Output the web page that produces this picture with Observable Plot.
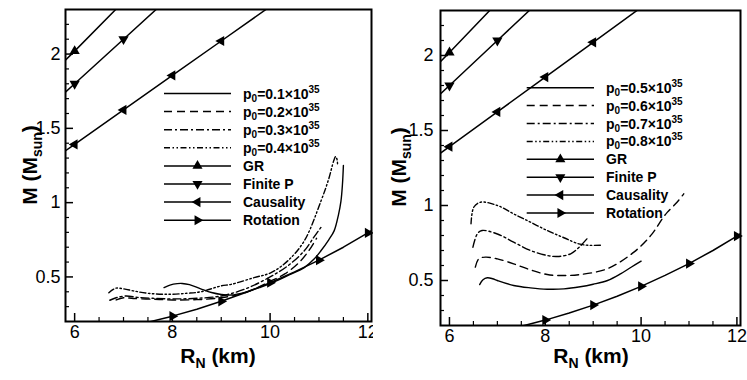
<!DOCTYPE html>
<html><head><meta charset="utf-8">
<script src="https://cdn.jsdelivr.net/npm/d3@7"></script>
<script src="https://cdn.jsdelivr.net/npm/@observablehq/plot@0.6"></script>
<style>
body{margin:0;background:#fff;}
#wrap{display:flex;width:747px;height:380px;background:#fff;}
</style></head><body><div id="wrap"></div>
<script>
// ---------- data ----------
const xMajor = [6, 8, 10, 12];
const xMinor = [6.5, 7, 7.5, 8.5, 9, 9.5, 10.5, 11, 11.5];
const yMajor = [0.5, 1, 1.5, 2];
const yMinor = [0.3, 0.4, 0.6, 0.7, 0.8, 0.9, 1.1, 1.2, 1.3, 1.4, 1.6, 1.7, 1.8, 1.9, 2.1, 2.2];

const limitNames = ["GR", "Finite P", "Causality", "Rotation"];
const grLine = [[5.8, 1.955], [6, 2.02], [6.9, 2.32]];
const grMarkers = [[6, 2.02]];
const finitePLine = [[5.8, 1.74], [6, 1.8], [7, 2.1], [7.8, 2.34]];
const finitePMarkers = [[6, 1.8], [7, 2.1]];
const causalityLine = [[5.8, 1.346], [6, 1.392], [7, 1.624], [8, 1.856], [9, 2.088], [10, 2.32]];
const causalityMarkers = [[6, 1.392], [7, 1.624], [8, 1.856], [9, 2.088]];
const rotationLine = [[7.5, 0.195], [8, 0.236], [8.5, 0.283], [9, 0.336], [9.5, 0.395], [10, 0.461], [10.5, 0.534], [11, 0.613], [11.5, 0.70], [12, 0.796], [12.2, 0.84]];
const rotationMarkers = [[8, 0.236], [9, 0.336], [10, 0.461], [11, 0.613], [12, 0.796]];

const leftP0 = ["0.1", "0.2", "0.3", "0.4"];
const rightP0 = ["0.5", "0.6", "0.7", "0.8"];

const curveP01 = [[7.83,0.428],[7.95,0.445],[8.1,0.455],[8.2,0.456],[8.35,0.448],[8.58,0.42],[8.8,0.395],[9.0,0.382],[9.2,0.378],[9.5,0.398],[9.8,0.43],[10.0,0.455],[10.2,0.483],[10.4,0.515],[10.7,0.563],[10.9,0.62],[11.04,0.676],[11.2,0.75],[11.31,0.81],[11.4,0.92],[11.45,1.01],[11.48,1.12],[11.5,1.25]];
const curveP02 = [[6.85,0.345],[7.0,0.36],[7.2,0.355],[7.6,0.35],[8.0,0.345],[8.5,0.347],[9.0,0.36],[9.5,0.395],[10.0,0.47],[10.3,0.52],[10.6,0.6],[10.8,0.68],[10.95,0.76]];
const curveP03 = [[6.72,0.343],[6.85,0.36],[7.05,0.372],[7.3,0.362],[7.6,0.356],[8.0,0.352],[8.5,0.356],[9.0,0.372],[9.5,0.42],[10.0,0.5],[10.36,0.574],[10.7,0.676],[10.9,0.77],[11.04,0.833]];
const curveP04 = [[6.7,0.394],[6.84,0.424],[7.0,0.42],[7.22,0.405],[7.5,0.39],[7.9,0.383],[8.3,0.39],[8.58,0.40],[9.0,0.44],[9.2,0.45],[9.67,0.495],[10.02,0.529],[10.36,0.608],[10.7,0.743],[11.04,1.01],[11.2,1.16],[11.3,1.28],[11.34,1.31],[11.37,1.29],[11.38,1.26]];

const curveP05 = [[6.63,0.473],[6.7,0.505],[6.79,0.518],[6.9,0.512],[7.0,0.5],[7.34,0.467],[7.69,0.451],[8.04,0.442],[8.39,0.444],[8.73,0.458],[9.0,0.475],[9.3,0.5],[9.57,0.544],[9.8,0.59],[10.0,0.629]];
const curveP06 = [[6.54,0.589],[6.61,0.644],[6.75,0.656],[7.0,0.644],[7.34,0.611],[7.69,0.571],[8.04,0.54],[8.39,0.533],[8.73,0.54],[9.29,0.578],[9.85,0.689],[10.23,0.811],[10.44,0.911],[10.55,0.956],[10.75,1.022],[10.89,1.078]];
const curveP07 = [[6.49,0.722],[6.58,0.81],[6.68,0.833],[7.0,0.81],[7.34,0.756],[7.69,0.70],[8.04,0.667],[8.25,0.66],[8.53,0.678],[8.7,0.72],[8.87,0.778]];
const curveP08 = [[6.45,0.878],[6.51,0.99],[6.65,1.022],[7.0,1.0],[7.34,0.944],[7.69,0.889],[8.04,0.833],[8.39,0.785],[8.7,0.744],[8.9,0.735],[9.15,0.735]];

// ---------- styles ----------
const FONT = "'Liberation Sans', Arial, Helvetica, sans-serif";
const dashes = [null, "8,5", "8,3,2,3", "6,2.5,1.5,2.5,1.5,2.5"];
const limitRotate = [0, 180, -90, 90];
const limitLines = [grLine, finitePLine, causalityLine, rotationLine];
const limitMarkers = [grMarkers, finitePMarkers, causalityMarkers, rotationMarkers];

function makePanel(cfg) {
  const marks = [];
  cfg.curves.forEach((c, i) => {
    marks.push(Plot.line(c, {x: d => d[0], y: d => d[1], stroke: "black", strokeWidth: 1.4,
      strokeDasharray: dashes[i], curve: "catmull-rom", clip: true}));
  });
  limitLines.forEach((L, i) => {
    marks.push(Plot.line(L, {x: d => d[0], y: d => d[1], stroke: "black", strokeWidth: 1.5, clip: true}));
    marks.push(Plot.dot(limitMarkers[i], {x: d => d[0], y: d => d[1], symbol: "triangle",
      rotate: limitRotate[i], r: 3.8, fill: "black", stroke: "none"}));
  });
  marks.push(Plot.axisX(xMinor, {tickSize: -4, fill: "none", strokeWidth: 1.2, label: null}));
  marks.push(Plot.axisX(xMajor, {tickSize: -8, fill: "none", strokeWidth: 1.5, label: null}));
  marks.push(Plot.axisX(xMajor, {tickSize: 0, tickPadding: 4, fontSize: 18, tickFormat: d => String(d), label: null}));
  marks.push(Plot.axisY(yMinor, {tickSize: -4, fill: "none", strokeWidth: 1.2, label: null}));
  marks.push(Plot.axisY(yMajor, {tickSize: -8, fill: "none", strokeWidth: 1.5, label: null}));
  marks.push(Plot.axisY(yMajor, {tickSize: 0, tickPadding: cfg.padY, fontSize: 18, tickFormat: d => String(d), label: null}));
  marks.push(Plot.frame({stroke: "black", strokeWidth: 2}));

  const svgEl = Plot.plot({
    width: cfg.width, height: 380,
    marginLeft: cfg.ml, marginRight: cfg.mr, marginTop: cfg.mt, marginBottom: cfg.mb,
    x: {domain: [5.813, 12.075]},
    y: {domain: [0.2, 2.3]},
    style: {fontFamily: FONT, color: "black", background: "white", overflow: "visible"},
    marks
  });
  const svg = d3.select(svgEl);

  // axis titles
  const xt = svg.append("text").attr("x", cfg.xTitleX).attr("y", 363)
    .attr("text-anchor", "middle").attr("font-family", FONT).attr("font-weight", "bold").attr("font-size", 21).attr("fill", "black");
  xt.append("tspan").text("R");
  xt.append("tspan").attr("font-size", 14).attr("dy", 5).text("N");
  xt.append("tspan").attr("dy", -5).text(" (km)");

  const yt = svg.append("text").attr("transform", `translate(${cfg.yTitleX},${cfg.yTitleY}) rotate(-90)`)
    .attr("text-anchor", "middle").attr("font-family", FONT).attr("font-weight", "bold").attr("font-size", 21).attr("fill", "black");
  yt.append("tspan").text("M (M");
  yt.append("tspan").attr("font-size", 14).attr("dy", 5).text("sun");
  yt.append("tspan").attr("dy", -5).text(")");

  // legend
  const g = svg.append("g").attr("font-family", FONT).attr("font-weight", "bold").attr("font-size", 14)
    .attr("fill", "black").attr("text-anchor", "start");
  const rows = cfg.labels.map((p, i) => ({type: "p", p, dash: dashes[i]}))
    .concat(limitNames.map((n, i) => ({type: "limit", name: n, rot: limitRotate[i]})));
  rows.forEach((row, i) => {
    const y = cfg.legY0 + i * cfg.legDy;
    g.append("line").attr("x1", cfg.legX0).attr("x2", cfg.legX1).attr("y1", y).attr("y2", y)
      .attr("stroke", "black").attr("stroke-width", 1.5)
      .attr("stroke-dasharray", row.dash || null);
    const t = g.append("text").attr("x", cfg.legTx).attr("y", y + 5).attr("text-anchor", "start");
    if (row.type === "p") {
      t.append("tspan").text("p");
      t.append("tspan").attr("font-size", 10).attr("dy", 3).text("0");
      t.append("tspan").attr("dy", -3).text("=" + row.p + "\u00d710");
      t.append("tspan").attr("font-size", 10).attr("dy", -6).text("35");
    } else {
      g.append("path").attr("d", d3.symbol(d3.symbolTriangle, 44)())
        .attr("transform", `translate(${(cfg.legX0 + cfg.legX1) / 2},${y}) rotate(${row.rot})`)
        .attr("fill", "black");
      t.text(row.name);
    }
  });
  return svgEl;
}

const wrap = document.getElementById("wrap");
wrap.appendChild(makePanel({
  width: 373, ml: 65, mr: 2, mt: 9, mb: 59, padY: 5,
  curves: [curveP01, curveP02, curveP03, curveP04], labels: leftP0,
  xTitleX: 218, yTitleX: 37, yTitleY: 165,
  legX0: 164, legX1: 231, legTx: 243, legY0: 93.5, legDy: 18.1
}));
wrap.appendChild(makePanel({
  width: 374, ml: 67, mr: 7, mt: 10, mb: 55, padY: 7,
  curves: [curveP05, curveP06, curveP07, curveP08], labels: rightP0,
  xTitleX: 218, yTitleX: 33, yTitleY: 167,
  legX0: 153.7, legX1: 221, legTx: 233, legY0: 87.7, legDy: 17.9
}));
</script>
</body></html>
